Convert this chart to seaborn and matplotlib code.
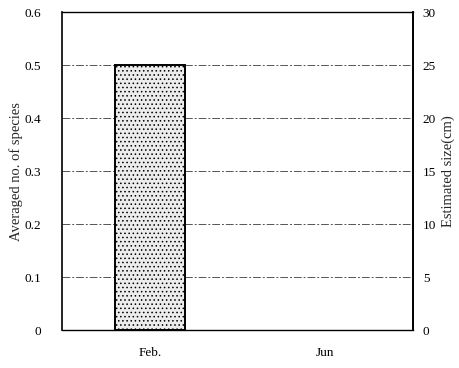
import matplotlib
matplotlib.use("Agg")
import matplotlib.pyplot as plt
import seaborn as sns
import pandas as pd

categories = ["Feb.", "Jun"]
species_avg = [0.5, 0.0]
left_ticks = [0, 0.1, 0.2, 0.3, 0.4, 0.5, 0.6]
left_labels = ["0", "0.1", "0.2", "0.3", "0.4", "0.5", "0.6"]
right_ticks = [0, 5, 10, 15, 20, 25, 30]

sns.set_theme(style="white")
plt.rcParams['font.family'] = ['Liberation Serif', 'DejaVu Serif']
plt.rcParams['hatch.color'] = '#9a9a9a'
plt.rcParams['hatch.linewidth'] = 0.6

df = pd.DataFrame({"month": categories, "species": species_avg})

fig = plt.figure(figsize=(4.6, 3.68), dpi=100)
ax = fig.add_axes([0.135, 0.103, 0.763, 0.864])

for y in left_ticks[1:-1]:
    ax.axhline(y, color="#555555", linewidth=0.7, linestyle=(0, (8, 2, 2, 2)), zorder=0)

sns.barplot(data=df, x="month", y="species", ax=ax, color="#ececec",
            width=0.4, edgecolor="black", linewidth=1.4, saturation=1, zorder=2)
for p in ax.patches:
    p.set_hatch("....")
    if p.get_height() == 0:
        p.set_linewidth(0)

ax.set_xlim(-0.5, 1.5)
ax.set_ylim(0, 0.6)
ax.set_yticks(left_ticks)
ax.set_yticklabels(left_labels, fontsize=9.5)
ax.set_xlabel("")
ax.set_ylabel("Averaged no. of species", fontsize=10.5, labelpad=1)
ax.tick_params(axis="y", length=0, pad=15, labelsize=9.5, colors="black")
ax.tick_params(axis="x", length=0, pad=12, labelsize=9.5, colors="black")

for s in ["left", "right", "top", "bottom"]:
    ax.spines[s].set_color("black")
ax.spines["left"].set_linewidth(1.2)
ax.spines["top"].set_linestyle((0, (1.5, 1)))
ax.spines["top"].set_linewidth(1.0)
ax.spines["bottom"].set_linestyle((0, (6, 1)))
ax.spines["bottom"].set_linewidth(1.0)

ax2 = ax.twinx()
ax2.set_ylim(0, 30)
ax2.set_yticks(right_ticks)
ax2.set_yticklabels([str(t) for t in right_ticks], fontsize=9.5)
ax2.set_ylabel("Estimated size(cm)", fontsize=10.5)
ax2.tick_params(axis="y", length=0, pad=7, labelsize=9.5, colors="black")
ax2.spines["right"].set_linewidth(1.2)
ax2.spines["right"].set_color("black")
for s in ["left", "top", "bottom"]:
    ax2.spines[s].set_visible(False)

fig.savefig("out.png", dpi=100)
